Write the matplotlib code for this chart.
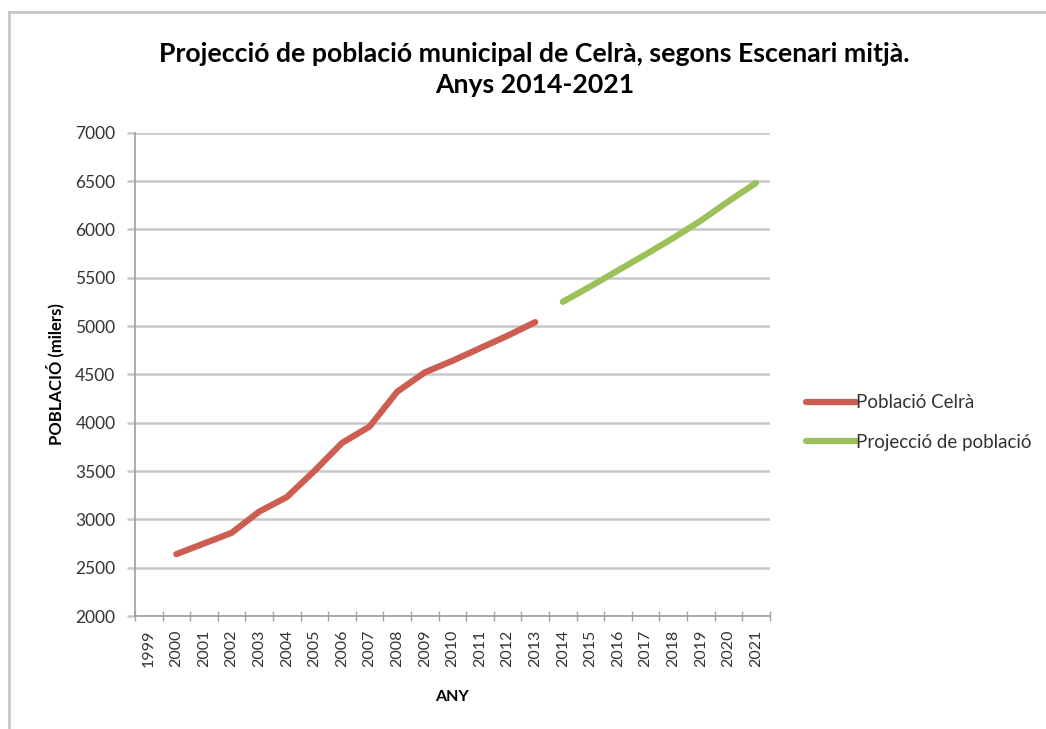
import numpy as np
import matplotlib
matplotlib.use('Agg')
import matplotlib.pyplot as plt
from matplotlib.ticker import FixedLocator, NullFormatter

plt.rcParams['font.family'] = ['Lato', 'DejaVu Sans']

years = [str(y) for y in range(1999, 2022)]
poblacio = [np.nan, 2640, 2750, 2860, 3080, 3230, 3500, 3790, 3960, 4320, 4520,
            4640, 4770, 4900, 5040] + [np.nan] * 8
projeccio = [np.nan] * 15 + [5250, 5410, 5575, 5740, 5910, 6090, 6290, 6480]
yticks = list(range(2000, 7001, 500))

fig = plt.figure(figsize=(10.46, 7.29), dpi=100)
ax = fig.add_axes([0.129, 0.155, 0.607, 0.663])

x = np.arange(len(years))
ax.plot(x, poblacio, color='#CD5C51', lw=4.5, solid_capstyle='round',
        solid_joinstyle='round', label='Població Celrà')
ax.plot(x, projeccio, color='#9DC15A', lw=4.5, solid_capstyle='round',
        solid_joinstyle='round', label='Projecció de població')

ax.set_xlim(-0.5, len(years) - 0.5)
ax.set_ylim(2000, 7000)
ax.set_yticks(yticks)
ax.set_yticklabels([str(v) for v in yticks], fontsize=12.5, color='#333333')
ax.yaxis.grid(True, color='#c8c8c8', lw=1.8)
ax.set_axisbelow(True)

ax.set_xticks(x)
ax.set_xticklabels(years, rotation=90, fontsize=11.5, color='#333333')
ax.xaxis.set_minor_locator(FixedLocator(np.arange(-0.5, len(years), 1)))
ax.xaxis.set_minor_formatter(NullFormatter())
ax.tick_params(axis='x', which='major', length=0, pad=10)
ax.tick_params(axis='x', which='minor', direction='inout', length=7,
               color='#a0a0a0', width=1)
ax.tick_params(axis='y', length=6, color='#c8c8c8', width=1.8, pad=8)

for s in ['top', 'right']:
    ax.spines[s].set_visible(False)
for s in ['left', 'bottom']:
    ax.spines[s].set_color('#a0a0a0')
    ax.spines[s].set_linewidth(1.2)

ax.set_xlabel('ANY', fontsize=11.5, fontweight='bold', labelpad=16)
ax.set_ylabel('POBLACIÓ (milers)', fontsize=12, fontweight='bold', labelpad=8)

fig.text(0.511, 0.904, 'Projecció de població municipal de Celrà, segons Escenari mitjà.\nAnys 2014-2021',
         ha='center', va='center', fontsize=19.2, fontweight='bold', linespacing=1.35)

leg = ax.legend(loc='center left', bbox_to_anchor=(1.03, 0.40), frameon=False,
                fontsize=13.5, handlelength=2.7, handletextpad=0.0, labelspacing=1.2,
                labelcolor='#333333')

# outer chart border (top and left edges visible)
fig.add_artist(plt.Line2D([0.009, 1.0], [0.984, 0.984], color='#c8c8c8', lw=2,
                          transform=fig.transFigure))
fig.add_artist(plt.Line2D([0.009, 0.009], [0.0, 0.984], color='#c8c8c8', lw=2,
                          transform=fig.transFigure))

fig.savefig('out.png', dpi=100)
